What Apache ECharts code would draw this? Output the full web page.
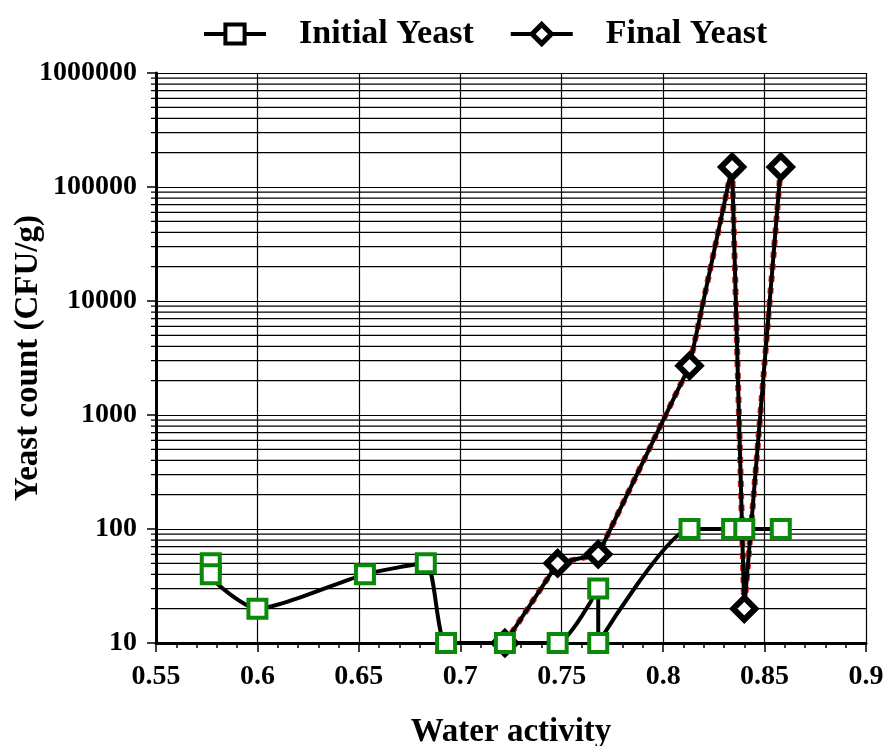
<!DOCTYPE html>
<html>
<head>
<meta charset="utf-8">
<script src="https://cdn.jsdelivr.net/npm/echarts@6/dist/echarts.min.js"></script>
<style>
html, body { margin: 0; padding: 0; background: #fff; }
#chart { width: 885px; height: 746px; }
</style>
</head>
<body>
<div id="chart"></div>
<script>
// water activity vs yeast count
var initialX = [0.577, 0.577, 0.600, 0.653, 0.683, 0.693, 0.722, 0.748, 0.768, 0.768, 0.813, 0.834, 0.840, 0.858];
var initialY = [50, 40, 20, 40, 50, 10, 10, 10, 30, 10, 100, 100, 100, 100];
var finalX = [0.722, 0.748, 0.768, 0.813, 0.834, 0.840, 0.858];
var finalY = [10, 50, 60, 2700, 150000, 20, 150000];

var xMin = 0.55, xMax = 0.9, xStep = 0.05;
var yMin = 10, yMax = 1000000;
var minorSteps = [2, 3, 4, 5, 6, 7, 8, 9];

var font = "'Liberation Serif', 'Times New Roman', serif";

function pairs(xs, ys) {
	return xs.map(function (x, i) { return [x, ys[i]]; });
}

// minor log lines 20..90, 200..900 ...
var minorLines = [];
for (var d = yMin; d < yMax; d *= 10) {
	minorSteps.forEach(function (m) { minorLines.push([xMin, m * d]); });
}

var chart = echarts.init(document.getElementById('chart'));

chart.setOption({
	animation: false,
	grid: {
		left: 156,
		right: 19,
		top: 73,
		bottom: 103,
		outerBoundsMode: 'none'
	},
	legend: {
		top: 12,
		left: 197,
		itemWidth: 62,
		itemHeight: 24,
		itemGap: 35,
		textStyle: {
			fontFamily: font,
			fontWeight: 'bold',
			fontSize: 34,
			color: '#000',
			padding: [0, 0, 0, 28]
		},
		data: [
			{ name: 'Initial Yeast', itemStyle: { borderColor: '#000', borderWidth: 4 }, lineStyle: { width: 4 } },
			{ name: 'Final Yeast', itemStyle: { borderWidth: 5 }, lineStyle: { width: 4 } }
		]
	},
	xAxis: {
		type: 'value',
		min: xMin,
		max: xMax,
		interval: xStep,
		name: 'Water activity',
		nameLocation: 'middle',
		nameGap: 73,
		nameMoveOverlap: false,
		nameTextStyle: {
			fontFamily: font,
			fontWeight: 'bold',
			fontSize: 33,
			color: '#000'
		},
		axisLine: { lineStyle: { color: '#000', width: 3 } },
		axisTick: { length: 9, lineStyle: { color: '#000', width: 1.5 } },
		minorTick: { show: true, splitNumber: 5, length: 5, lineStyle: { color: '#000', width: 1.5 } },
		axisLabel: {
			margin: 20,
			fontFamily: font,
			fontWeight: 'bold',
			fontSize: 28,
			color: '#000'
		},
		splitLine: { lineStyle: { color: '#000', width: 1.2 } }
	},
	yAxis: {
		type: 'log',
		logBase: 10,
		min: yMin,
		max: yMax,
		name: 'Yeast count (CFU/g)',
		nameLocation: 'middle',
		nameGap: 111,
		nameMoveOverlap: false,
		nameTextStyle: {
			fontFamily: font,
			fontWeight: 'bold',
			fontSize: 33,
			color: '#000'
		},
		axisLine: { show: true, lineStyle: { color: '#000', width: 3 } },
		axisTick: { show: true, length: 9, lineStyle: { color: '#000', width: 1.5 } },
		axisLabel: {
			margin: 19,
			fontFamily: font,
			fontWeight: 'bold',
			fontSize: 28,
			color: '#000',
			formatter: function (v) { return String(Math.round(v)); }
		},
		splitLine: { lineStyle: { color: '#000', width: 1.2 } }
	},
	series: [
		{
			// minor log grid lines + short ticks on the left
			type: 'custom',
			name: 'minor',
			silent: true,
			clip: false,
			z: 1,
			data: minorLines,
			renderItem: function (params, api) {
				var v = api.value(1);
				var p0 = api.coord([xMin, v]);
				var p1 = api.coord([xMax, v]);
				return {
					type: 'line',
					shape: { x1: p0[0] - 5, y1: p0[1], x2: p1[0], y2: p1[1] },
					style: { stroke: '#000', lineWidth: 1.2 }
				};
			}
		},
		{
			type: 'line',
			name: 'finalDots',
			data: pairs(finalX, finalY),
			showSymbol: false,
			silent: true,
			z: 3,
			lineStyle: { color: '#d8261c', width: 6, type: 'dotted' }
		},
		{
			type: 'line',
			name: 'Final Yeast',
			data: pairs(finalX, finalY),
			symbol: 'diamond',
			symbolSize: 22,
			z: 4,
			lineStyle: { color: '#000', width: 4 },
			itemStyle: { color: '#fff', borderColor: '#000', borderWidth: 6 }
		},
		{
			type: 'line',
			name: 'Initial Yeast',
			data: pairs(initialX, initialY),
			symbol: 'rect',
			symbolSize: 18,
			smooth: 0.2,
			z: 5,
			lineStyle: { color: '#000', width: 4 },
			itemStyle: { color: '#fff', borderColor: '#0a8a0a', borderWidth: 4 }
		}
	]
});
</script>
</body>
</html>
